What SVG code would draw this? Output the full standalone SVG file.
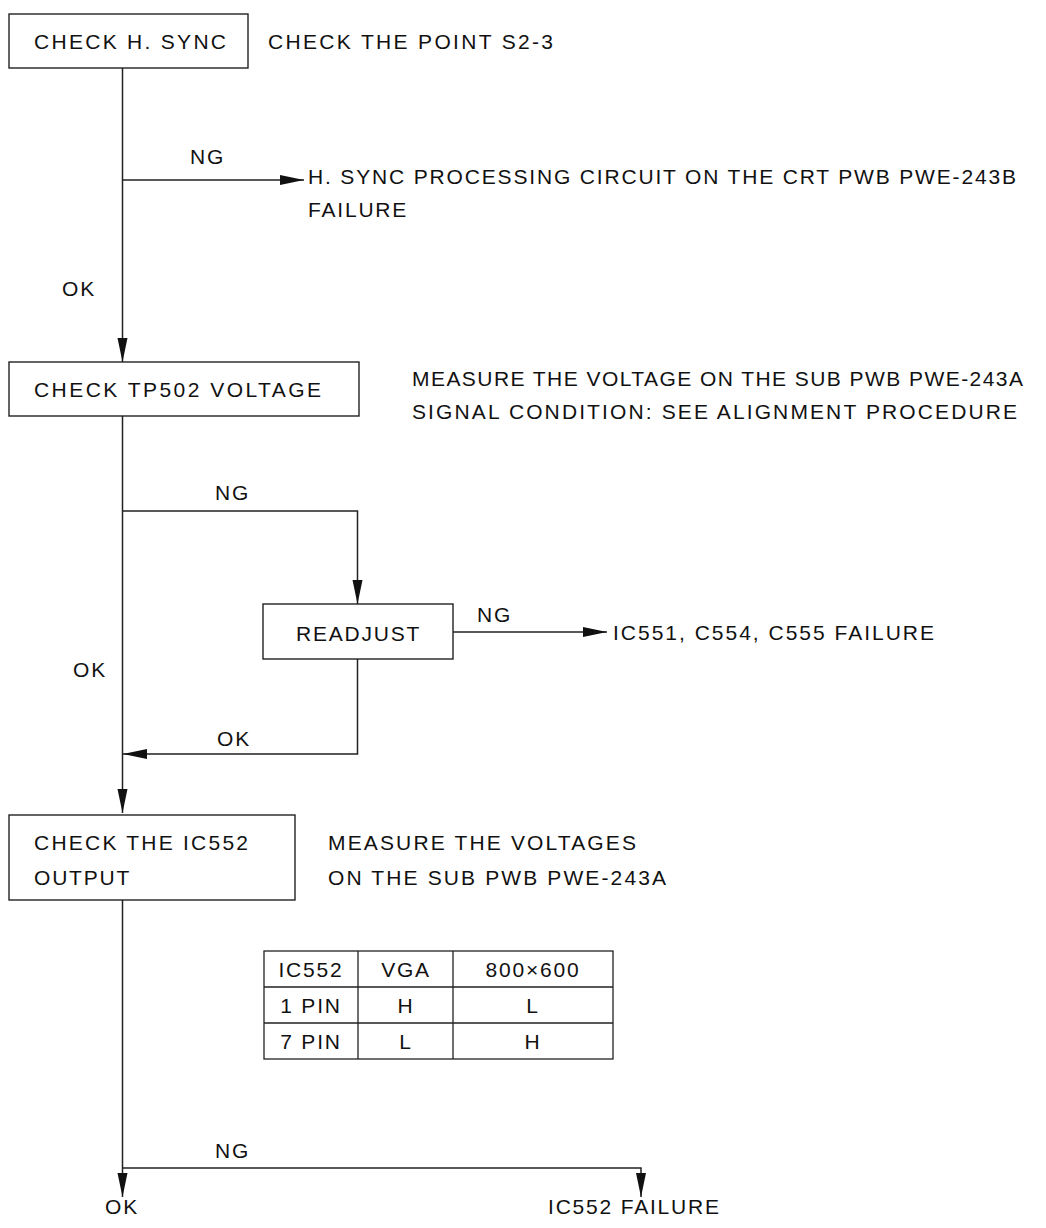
<svg xmlns="http://www.w3.org/2000/svg" width="1046" height="1228" viewBox="0 0 1046 1228">
  <style>
    text { font-family: "Liberation Sans", Arial, sans-serif; font-size: 21px; letter-spacing: 1.8px; fill: #111; }
    text.fit { letter-spacing: 0; }
    .box { fill: #fff; stroke: #222; stroke-width: 1.4; }
    .wire { fill: none; stroke: #222; stroke-width: 1.5; }
    .cell { fill: none; stroke: #222; stroke-width: 1.3; }
    .mid { text-anchor: middle; }
  </style>
  <defs>
    <marker id="arrow" markerUnits="userSpaceOnUse" markerWidth="24" markerHeight="12" refX="24" refY="6" orient="auto">
      <path d="M0,1 L24,6 L0,11 Z" fill="#111"/>
    </marker>
  </defs>
  <rect width="1046" height="1228" fill="#fff"/>

  <!-- connectors -->
  <g id="connectors" class="wire">
    <path d="M122.5,68 V362" marker-end="url(#arrow)"/>
    <path d="M122.5,180 H304" marker-end="url(#arrow)"/>
    <path d="M122.5,416 V813" marker-end="url(#arrow)"/>
    <path d="M122.5,511 H357.5 V604" marker-end="url(#arrow)"/>
    <path d="M453,632 H607" marker-end="url(#arrow)"/>
    <path d="M357.5,659 V754 H123" marker-end="url(#arrow)"/>
    <path d="M122.5,900 V1197" marker-end="url(#arrow)"/>
    <path d="M122.5,1168 H641 V1197" marker-end="url(#arrow)"/>
  </g>

  <!-- branch labels -->
  <g id="labels">
    <text x="190" y="164">NG</text>
    <text x="62" y="296">OK</text>
    <text x="215" y="500">NG</text>
    <text x="477" y="622">NG</text>
    <text x="73" y="677">OK</text>
    <text x="217" y="746">OK</text>
    <text x="215" y="1158">NG</text>
    <text x="105" y="1214">OK</text>
  </g>

  <g id="check-hsync">
    <rect class="box" x="9" y="14" width="239" height="54"/>
    <text class="fit" x="34" y="49" textLength="192" lengthAdjust="spacing">CHECK H. SYNC</text>
  </g>
  <g id="note-hsync">
    <text class="fit" x="268" y="49" textLength="285" lengthAdjust="spacing">CHECK THE POINT S2-3</text>
  </g>

  <g id="hsync-failure">
    <text class="fit" x="308" y="184" textLength="708" lengthAdjust="spacing">H. SYNC PROCESSING CIRCUIT ON THE CRT PWB PWE-243B</text>
    <text x="308" y="217">FAILURE</text>
  </g>

  <g id="check-tp502">
    <rect class="box" x="9" y="362" width="350" height="54"/>
    <text class="fit" x="34" y="397" textLength="287" lengthAdjust="spacing">CHECK TP502 VOLTAGE</text>
  </g>
  <g id="note-tp502">
    <text class="fit" x="412" y="386" textLength="611" lengthAdjust="spacing">MEASURE THE VOLTAGE ON THE SUB PWB PWE-243A</text>
    <text class="fit" x="412" y="419" textLength="605" lengthAdjust="spacing">SIGNAL CONDITION: SEE ALIGNMENT PROCEDURE</text>
  </g>

  <g id="readjust">
    <rect class="box" x="263" y="604" width="190" height="55"/>
    <text x="296" y="641">READJUST</text>
  </g>
  <g id="readjust-failure">
    <text class="fit" x="613" y="640" textLength="321" lengthAdjust="spacing">IC551, C554, C555 FAILURE</text>
  </g>

  <g id="check-ic552">
    <rect class="box" x="9" y="815" width="286" height="85"/>
    <text class="fit" x="34" y="850" textLength="214" lengthAdjust="spacing">CHECK THE IC552</text>
    <text x="34" y="885">OUTPUT</text>
  </g>
  <g id="note-ic552">
    <text class="fit" x="328" y="850" textLength="308" lengthAdjust="spacing">MEASURE THE VOLTAGES</text>
    <text class="fit" x="328" y="885" textLength="338" lengthAdjust="spacing">ON THE SUB PWB PWE-243A</text>
  </g>

  <!-- IC552 pin level table -->
  <g id="ic552-table">
    <rect class="cell" x="264" y="951" width="349" height="108"/>
    <path class="cell" d="M264,987 H613 M264,1023 H613 M358,951 V1059 M453,951 V1059"/>
    <text class="mid" x="311" y="977">IC552</text>
    <text class="mid" x="406" y="977">VGA</text>
    <text class="mid" x="533" y="977">800×600</text>
    <text class="mid" x="311" y="1013">1 PIN</text>
    <text class="mid" x="406" y="1013">H</text>
    <text class="mid" x="533" y="1013">L</text>
    <text class="mid" x="311" y="1049">7 PIN</text>
    <text class="mid" x="406" y="1049">L</text>
    <text class="mid" x="533" y="1049">H</text>
  </g>

  <g id="ic552-failure">
    <text x="548" y="1214">IC552 FAILURE</text>
  </g>
</svg>
